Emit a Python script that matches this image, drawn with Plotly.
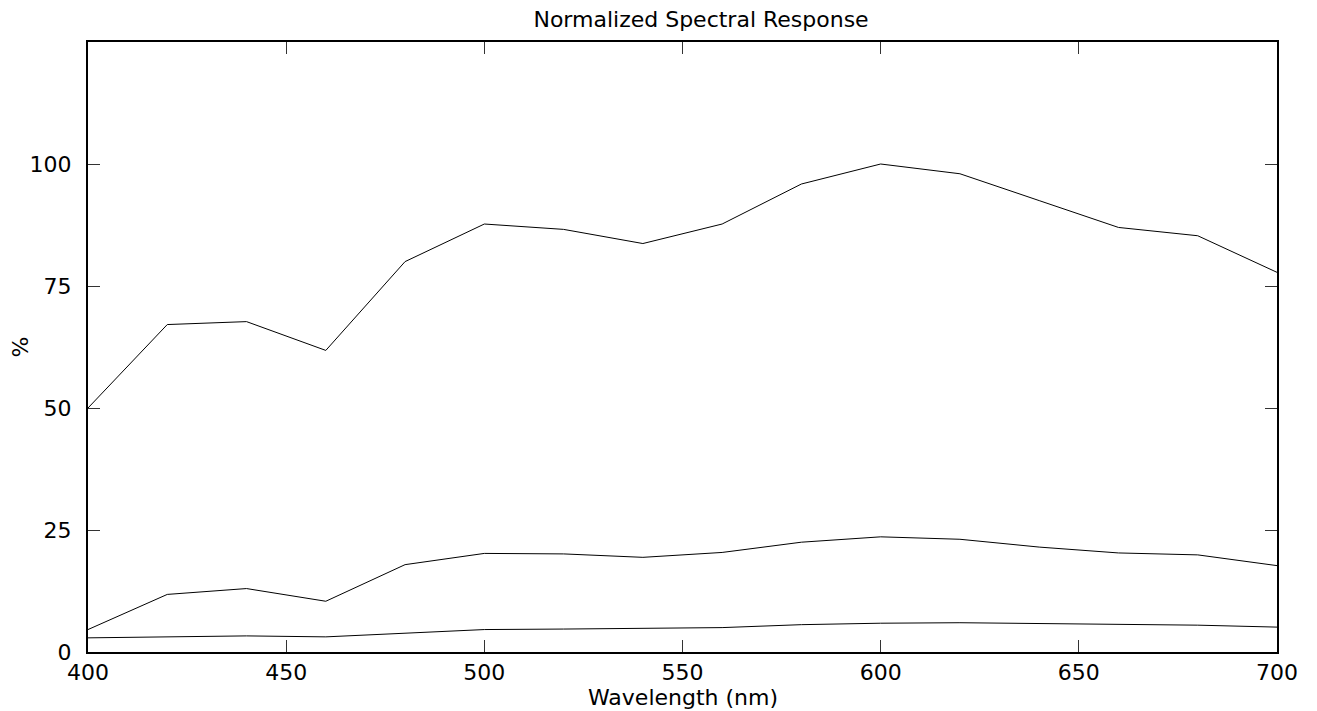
import plotly.graph_objects as go

wavelength = [400, 420, 440, 460, 480, 500, 520, 540, 560, 580, 600, 620, 640, 660, 680, 700]
series_top = [50.0, 67.1, 67.7, 61.8, 80.0, 87.7, 86.6, 83.7, 87.7, 95.9, 100.0, 98.0, 92.5, 87.0, 85.3, 77.8]
series_mid = [4.6, 11.8, 13.0, 10.4, 17.9, 20.2, 20.1, 19.4, 20.4, 22.5, 23.6, 23.1, 21.5, 20.3, 19.9, 17.7]
series_low = [2.9, 3.1, 3.3, 3.1, 3.9, 4.6, 4.7, 4.9, 5.0, 5.6, 5.9, 6.0, 5.8, 5.7, 5.5, 5.1]
x_ticks = [400, 450, 500, 550, 600, 650, 700]
y_ticks = [0, 25, 50, 75, 100]

FONT = "DejaVu Sans, Verdana, sans-serif"
FS = 22

fig = go.Figure()
for ys in (series_top, series_mid, series_low):
    fig.add_trace(go.Scatter(x=wavelength, y=ys, mode="lines",
                             line=dict(color="black", width=1), showlegend=False,
                             hoverinfo="skip"))

axis_common = dict(showgrid=False, zeroline=False, showline=True, linecolor="black",
                   linewidth=2, mirror="ticks", ticks="inside", ticklen=12,
                   tickwidth=1, tickcolor="#333333", automargin=False,
                   tickfont=dict(family=FONT, size=FS, color="black"))

fig.update_layout(
    width=1309, height=703,
    margin=dict(l=80, r=40, t=34, b=59),
    paper_bgcolor="white", plot_bgcolor="white",
    font=dict(family=FONT, size=FS, color="black"),
    xaxis=dict(range=[400, 700], tickvals=x_ticks, ticklabelstandoff=0, **axis_common),
    yaxis=dict(range=[0, 125], tickvals=y_ticks, ticklabelstandoff=10,
               title=dict(text="%", font=dict(family=FONT, size=FS), standoff=30),
               **axis_common),
    title=dict(text="Normalized Spectral Response", x=0.5156, xref="paper",
               xanchor="center", y=0.984, yref="container", yanchor="middle",
               font=dict(family=FONT, size=FS, color="black")),
    annotations=[dict(text="Wavelength (nm)", x=0.5, xref="paper", y=-0.0745, yref="paper",
                      xanchor="center", yanchor="middle", showarrow=False,
                      font=dict(family=FONT, size=FS, color="black"))],
)

fig.write_html("out.html")
